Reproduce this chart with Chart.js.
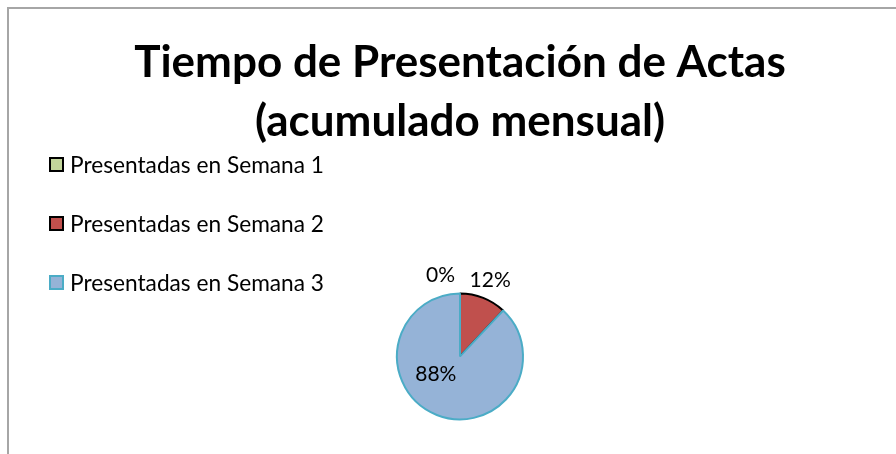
<!DOCTYPE html>
<html>
<head>
<meta charset="utf-8">
<script src="https://cdn.jsdelivr.net/npm/chart.js@4.4.1/dist/chart.umd.min.js"></script>
<style>
    body { margin: 0; background: #fff; font-family: Lato, sans-serif; }
    #frame { position: absolute; left: 7px; top: 7px; width: 2000px; height: 2000px;
             border-left: 2px solid #a6a6a6; border-top: 2px solid #a6a6a6; }
    #wrap { position: absolute; left: 0; top: 0; width: 896px; height: 454px; overflow: hidden; }
    #chart { position: absolute; left: 0; top: 0; }
    #legend { position: absolute; left: 49px; top: 135px; }
    .row { height: 59px; display: flex; align-items: center; font-size: 22.7px; color: #000; }
    .box { width: 11px; height: 11px; border: 2px solid #000; margin-right: 6px; }
</style>
</head>
<body>
<div id="wrap">
    <div id="frame"></div>
    <canvas id="chart" width="896" height="454"></canvas>
    <div id="legend"></div>
</div>
<script>
// Data
var titleLines = ['Tiempo de Presentación de Actas', '(acumulado mensual)'];
var categories = ['Presentadas en Semana 1', 'Presentadas en Semana 2', 'Presentadas en Semana 3'];
var values = [0, 12, 88];
var fillColors = ['#C3D69B', '#C0504D', '#95B3D7'];
var edgeColors = ['#000000', '#000000', '#4BACC6'];

// Legend built from the same arrays
var legend = document.getElementById('legend');
categories.forEach(function(name, i) {
    var row = document.createElement('div');
    row.className = 'row';
    var box = document.createElement('span');
    box.className = 'box';
    box.style.background = fillColors[i];
    box.style.borderColor = edgeColors[i];
    row.appendChild(box);
    row.appendChild(document.createTextNode(name));
    legend.appendChild(row);
});

// Percent labels, Excel-like "best fit"
var pctLabels = {
    id: 'pctLabels',
    afterDatasetsDraw: function(chart) {
        var ctx = chart.ctx;
        var meta = chart.getDatasetMeta(0);
        var total = values.reduce(function(a, b) { return a + b; }, 0);
        ctx.save();
        ctx.font = '21px Lato';
        ctx.fillStyle = '#000';
        ctx.textBaseline = 'middle';
        meta.data.forEach(function(arc, i) {
            var pct = Math.round(values[i] / total * 100);
            var mid = (arc.startAngle + arc.endAngle) / 2;
            var share = values[i] / total;
            var x, y;
            if (share > 0.5) {
                // inside
                x = arc.x + Math.cos(mid + 0.55) * arc.outerRadius * 0.48;
                y = arc.y + Math.sin(mid + 0.55) * arc.outerRadius * 0.48;
                ctx.textAlign = 'center';
            } else if (values[i] === 0) {
                x = arc.x - 5;
                y = arc.y - arc.outerRadius - 18;
                ctx.textAlign = 'right';
            } else {
                x = arc.x + Math.cos(mid) * (arc.outerRadius + 19);
                y = arc.y + Math.sin(mid) * (arc.outerRadius + 19);
                ctx.textAlign = 'center';
            }
            ctx.fillText(pct + '%', x, y);
        });
        ctx.restore();
    }
};

var ctx = document.getElementById('chart');
var chart = new Chart(ctx, {
    type: 'pie',
    data: {
        labels: categories,
        datasets: [{
            data: values,
            backgroundColor: fillColors,
            borderColor: edgeColors,
            borderWidth: 2,
            radius: 63
        }]
    },
    options: {
        responsive: false,
        animation: false,
        layout: { padding: { left: 24, right: 0, top: 0, bottom: 0 } },
        plugins: {
            legend: { display: false },
            tooltip: { enabled: false },
            title: {
                display: true,
                text: titleLines,
                color: '#000',
                font: { family: 'Lato', size: 44, weight: 'bold', lineHeight: 1.35 },
                padding: { top: 33, bottom: 107 }
            }
        }
    },
    plugins: [pctLabels]
});
</script>
</body>
</html>
